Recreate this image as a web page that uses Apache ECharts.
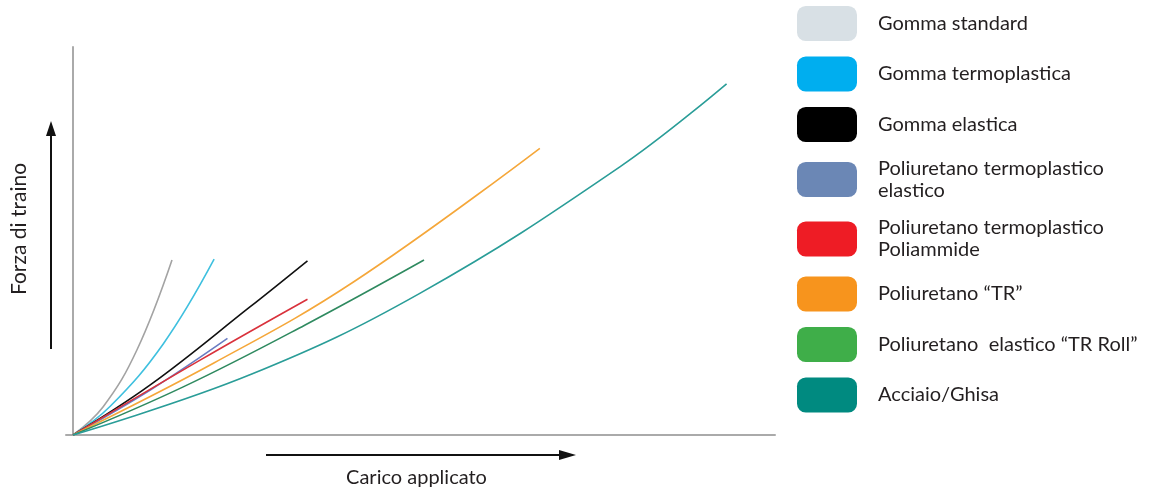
<!DOCTYPE html>
<html>
<head>
<meta charset="utf-8">
<title>Forza di traino / Carico applicato</title>
<script src="https://cdn.jsdelivr.net/npm/echarts@6/dist/echarts.min.js"></script>
<style>
  html, body { margin: 0; padding: 0; background: #fff; }
  #chart { width: 1157px; height: 495px; }
</style>
</head>
<body>
<div id="chart"></div>
<script>
// nomi dei materiali (legenda)
const materiali = [
  'Gomma standard',
  'Gomma termoplastica',
  'Gomma elastica',
  'Poliuretano termoplastico\nelastico',
  'Poliuretano termoplastico\nPoliammide',
  'Poliuretano \u201cTR\u201d',
  'Poliuretano  elastico \u201cTR Roll\u201d',
  'Acciaio/Ghisa'
]
// colori delle linee e dei riquadri della legenda
const coloriLinea = ['#a3a3a3', '#3fc0df', '#111111', '#6a7cc2', '#d9323c', '#f5a73a', '#2f8a60', '#2a9d98']
const coloriLegenda = ['#d8e0e5', '#00aeef', '#000000', '#6b87b5', '#ee1c25', '#f7941d', '#3fae49', '#008a80']

// curve: [carico, forza] in unità arbitrarie (0-100)
const gommaStandard = [[0, 0], [4.3, 7.3], [9.1, 21.9], [14.1, 45.1]]
const gommaTermoplastica = [[0, 0], [5.3, 7.4], [12.9, 23.6], [20.1, 45.3]]
const gommaElastica = [[0, 0], [11, 12.9], [25.2, 33], [33.4, 44.9]]
const puTermoElastico = [[0, 0], [11, 11.6], [22, 24.9]]
const puTermoPoliammide = [[0, 0], [18.1, 19.3], [33.4, 35]]
const puTR = [[0, 0], [20, 18.5], [40, 39.5], [66.5, 73.9]]
const puTRRoll = [[0, 0], [15.7, 12.4], [33, 28.3], [50, 45.1]]
const acciaioGhisa = [[0, 0], [25.2, 15.5], [49.4, 36.5], [77.9, 69.1], [93.1, 90.5]]

const curve = [gommaStandard, gommaTermoplastica, gommaElastica, puTermoElastico,
  puTermoPoliammide, puTR, puTRRoll, acciaioGhisa]

const chart = echarts.init(document.getElementById('chart'))
const font = 'Lato, "Open Sans", sans-serif'

const series = curve.map((dati, i) => {
  return {
    name: materiali[i],
    type: 'line',
    data: dati,
    smooth: 0.4,
    showSymbol: false,
    symbol: 'none',
    silent: true,
    lineStyle: { color: coloriLinea[i], width: 1.6 },
    itemStyle: { color: coloriLinea[i] }
  }
})

chart.setOption({
  animation: false,
  textStyle: { fontFamily: font },
  grid: { left: 66, right: 382, top: 47, bottom: 60, containLabel: false },
  legend: {
    orient: 'vertical',
    left: 797,
    top: 6,
    padding: 0,
    icon: 'roundRect',
    itemWidth: 60,
    itemHeight: 35,
    itemGap: 15.5,
    selectedMode: false,
    itemStyle: { borderWidth: 0 },
    textStyle: {
      fontFamily: font,
      fontSize: 20,
      color: '#231f20',
      lineHeight: 22,
      padding: [0, 0, 0, 16]
    },
    data: materiali.map((nome, i) => ({ name: nome, itemStyle: { color: coloriLegenda[i] } }))
  },
  xAxis: {
    type: 'value',
    min: -1,
    max: 100,
    name: 'Carico applicato',
    nameLocation: 'middle',
    nameGap: 33,
    nameTextStyle: { fontFamily: font, fontSize: 20, color: '#231f20', padding: [0, 8, 0, 0] },
    axisLine: { show: true, lineStyle: { color: '#aaaaaa', width: 2 } },
    axisTick: { show: false },
    axisLabel: { show: false },
    splitLine: { show: false }
  },
  yAxis: {
    type: 'value',
    min: 0,
    max: 100,
    name: 'Forza di traino',
    nameLocation: 'middle',
    nameRotate: 90,
    nameGap: 36,
    nameTextStyle: { fontFamily: font, fontSize: 21, color: '#231f20', padding: [0, 0, 0, 24] },
    axisLine: { show: true, onZero: true, lineStyle: { color: '#aaaaaa', width: 2 } },
    axisTick: { show: false },
    axisLabel: { show: false },
    splitLine: { show: false }
  },
  // frecce decorative accanto ai nomi degli assi
  graphic: [
    { type: 'line', shape: { x1: 51, y1: 349, x2: 51, y2: 132 }, style: { stroke: '#111', lineWidth: 2 } },
    { type: 'polygon', shape: { points: [[51, 121], [46, 136], [56, 136]] }, style: { fill: '#111' } },
    { type: 'line', shape: { x1: 266, y1: 455, x2: 562, y2: 455 }, style: { stroke: '#111', lineWidth: 2 } },
    { type: 'polygon', shape: { points: [[576, 455], [559, 450], [559, 460]] }, style: { fill: '#111' } }
  ],
  series: series
})
</script>
</body>
</html>
